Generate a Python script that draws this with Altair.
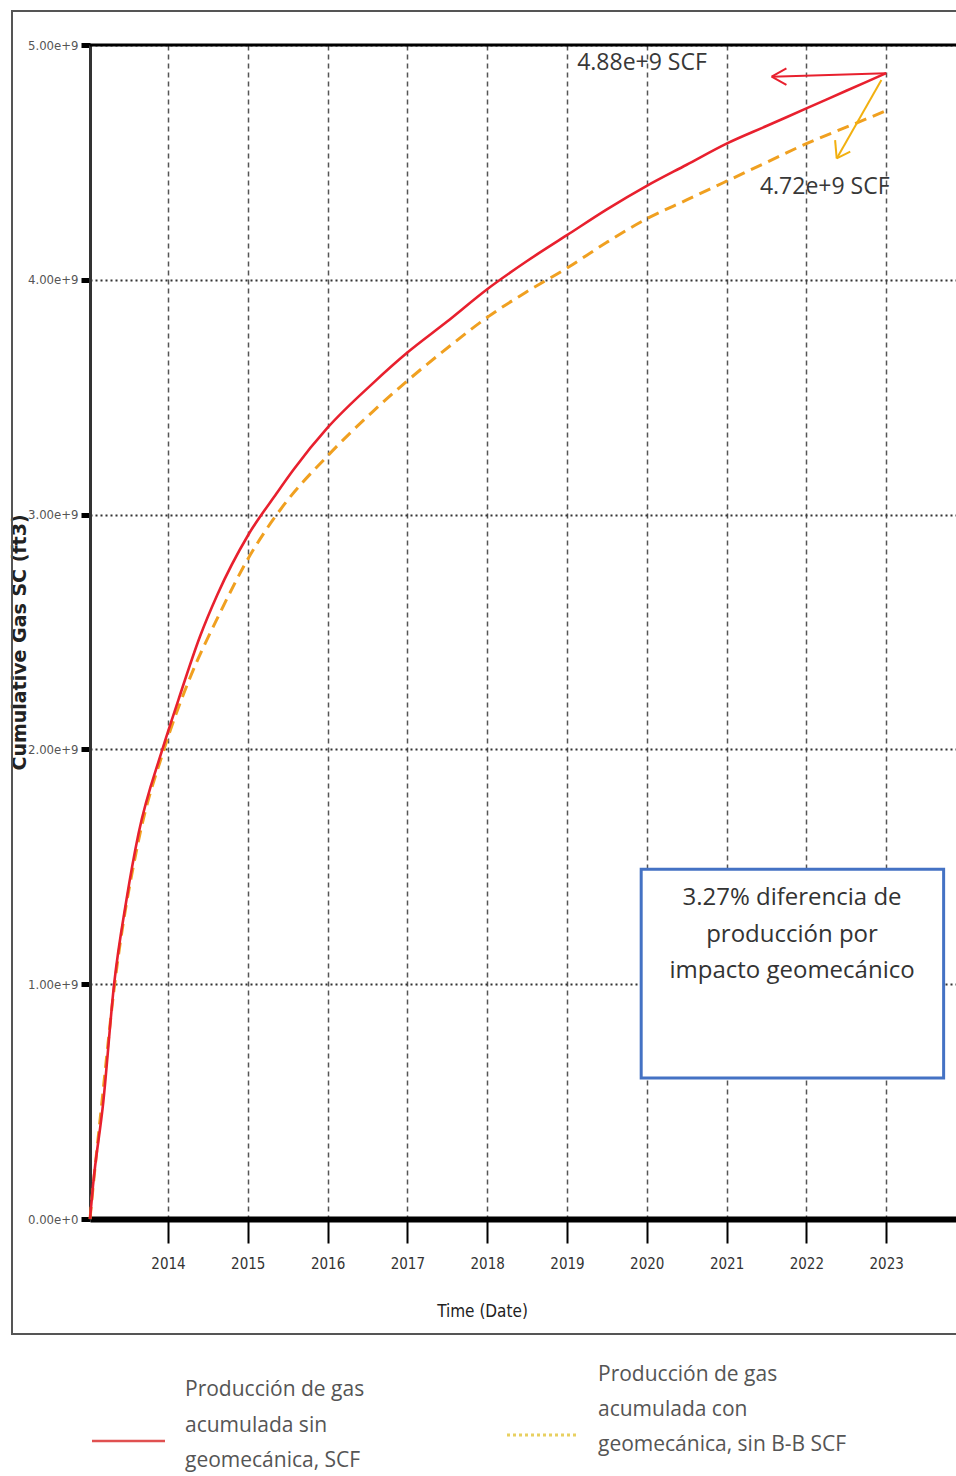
import altair as alt
import pandas as pd

# ---- data ----
red_years = [2013.023, 2013.06, 2013.19, 2013.325, 2013.48, 2013.63, 2013.93, 2014.13,
             2014.40, 2014.62, 2015.0, 2015.36, 2015.57, 2016.0, 2016.57, 2017.0,
             2017.49, 2018.0, 2018.5, 2019.0, 2019.5, 2020.0, 2020.5, 2021.0,
             2021.5, 2022.0, 2022.5, 2023.0]
red_vals = [0.0, 0.14, 0.50, 1.00, 1.36, 1.64, 2.00, 2.21,
            2.48, 2.66, 2.91, 3.09, 3.19, 3.37, 3.56, 3.69,
            3.82, 3.96, 4.08, 4.19, 4.30, 4.40, 4.49, 4.58,
            4.655, 4.73, 4.805, 4.88]

org_years = [2013.023, 2013.06, 2013.17, 2013.325, 2013.63, 2013.95, 2014.27, 2014.65,
             2015.0, 2015.45, 2016.0, 2016.57, 2017.0, 2017.54, 2018.0, 2018.5,
             2019.0, 2019.5, 2020.0, 2020.5, 2021.0, 2021.5, 2022.0, 2022.5, 2023.0]
org_vals = [0.0, 0.13, 0.49, 0.98, 1.61, 2.00, 2.30, 2.58,
            2.81, 3.04, 3.25, 3.44, 3.57, 3.72, 3.84, 3.95,
            4.05, 4.16, 4.26, 4.34, 4.42, 4.50, 4.58, 4.65, 4.72]

year_ticks = [2014, 2015, 2016, 2017, 2018, 2019, 2020, 2021, 2022, 2023]
gas_ticks = [0, 1e9, 2e9, 3e9, 4e9, 5e9]

ann_texts = ["4.88e+9 SCF", "4.72e+9 SCF"]
ann_years = [2019.94, 2022.23]
ann_vals = [4.923, 4.395]

box_lines = ["3.27% diferencia de", "producción por", "impacto geomecánico"]
box_line_vals = [1.367, 1.210, 1.056]
box_center_year = 2021.82
box_x = [2019.93, 2023.72]
box_y = [1.49, 0.60]

legend_left = ["Producción de gas", "acumulada sin", "geomecánica, SCF"]
legend_right = ["Producción de gas", "acumulada con", "geomecánica, sin B-B SCF"]

# arrows: (start year, start val, end year, end val) in data units
red_arrow = [(2023.0, 4.88, 2021.565, 4.865), (2021.565, 4.865, 2021.75, 4.90),
             (2021.565, 4.865, 2021.75, 4.83)]
org_arrow = [(2022.94, 4.851, 2022.38, 4.517), (2022.38, 4.517, 2022.36, 4.595),
             (2022.38, 4.517, 2022.55, 4.546)]

RED = "#E8202E"
ORANGE = "#F0A020"
NARROW = "DejaVu Sans Condensed, Liberation Sans Narrow, Arial Narrow, sans-serif"
TXT = "Open Sans"

W, H = 866, 1174

df_red = pd.DataFrame({"year": red_years, "gas": [v * 1e9 for v in red_vals]})
df_org = pd.DataFrame({"year": org_years, "gas": [v * 1e9 for v in org_vals]})

xs = alt.Scale(domain=[2013.023, 2023.875], nice=False, zero=False)
ys = alt.Scale(domain=[0, 5e9], nice=False)

x_axis = alt.Axis(values=year_ticks, format="d", title="Time (Date)",
                  grid=True, gridColor="#555", gridDash=[5, 4], gridWidth=1.5,
                  domainColor="black", domainWidth=6,
                  tickColor="black", tickWidth=2, tickSize=24,
                  labelFont=NARROW, labelFontSize=15, labelColor="#333",
                  labelPadding=13, labelFlush=False,
                  titleFont=NARROW, titleFontSize=17, titleColor="#222",
                  titleFontWeight="normal", titleX=392, titleY=92,
                  titleBaseline="middle", titleAlign="center")
y_axis = alt.Axis(values=gas_ticks, format=".2e", title="Cumulative Gas SC (ft3)",
                  grid=True, gridColor="#333", gridDash=[2, 3], gridWidth=2,
                  domainColor="#333", domainWidth=3,
                  tickColor="black", tickWidth=5, tickSize=9,
                  labelFont=NARROW, labelFontSize=13, labelColor="#555",
                  labelPadding=3, labelFlush=False,
                  titleFont="DejaVu Sans", titleFontSize=19, titleFontWeight="bold",
                  titleColor="#222", titleX=-71, titleY=597, titleAngle=270,
                  titleAlign="center", titleBaseline="middle")

orange_line = alt.Chart(df_org).mark_line(
    color=ORANGE, strokeWidth=3, strokeDash=[12, 7], interpolate="monotone"
).encode(
    x=alt.X("year:Q", scale=xs, axis=x_axis),
    y=alt.Y("gas:Q", scale=ys, axis=y_axis),
)
red_line = alt.Chart(df_red).mark_line(
    color=RED, strokeWidth=2.6, interpolate="monotone"
).encode(x=alt.X("year:Q", scale=xs), y=alt.Y("gas:Q", scale=ys))

top_rule = alt.Chart(pd.DataFrame({"gas": [5e9]})).mark_rule(
    color="black", strokeWidth=3
).encode(y=alt.Y("gas:Q", scale=ys), x=alt.value(0), x2=alt.value(W))


def arrow_df(segs):
    return pd.DataFrame({
        "year": [s[0] for s in segs], "gas": [s[1] * 1e9 for s in segs],
        "year2": [s[2] for s in segs], "gas2": [s[3] * 1e9 for s in segs],
    })


red_arr = alt.Chart(arrow_df(red_arrow)).mark_rule(color=RED, strokeWidth=2).encode(
    x=alt.X("year:Q", scale=xs), y=alt.Y("gas:Q", scale=ys), x2="year2", y2="gas2"
)
org_arr = alt.Chart(arrow_df(org_arrow)).mark_rule(color="#F2B010", strokeWidth=2).encode(
    x=alt.X("year:Q", scale=xs), y=alt.Y("gas:Q", scale=ys), x2="year2", y2="gas2"
)

ann = alt.Chart(pd.DataFrame({"year": ann_years, "gas": [v * 1e9 for v in ann_vals],
                              "t": ann_texts})).mark_text(
    font=TXT, fontSize=23, color="#383838", align="center", baseline="middle"
).encode(x=alt.X("year:Q", scale=xs), y=alt.Y("gas:Q", scale=ys), text="t:N")

box = alt.Chart(pd.DataFrame({"year": [box_x[0]], "year2": [box_x[1]],
                              "gas": [box_y[0] * 1e9], "gas2": [box_y[1] * 1e9]})).mark_rect(
    fill="white", stroke="#4472C4", strokeWidth=3
).encode(x=alt.X("year:Q", scale=xs), x2="year2", y=alt.Y("gas:Q", scale=ys), y2="gas2")

box_text = alt.Chart(pd.DataFrame({"year": [box_center_year] * 3,
                                   "gas": [v * 1e9 for v in box_line_vals],
                                   "t": box_lines})).mark_text(
    font=TXT, fontSize=24, color="#333", align="center", baseline="middle"
).encode(x=alt.X("year:Q", scale=xs), y=alt.Y("gas:Q", scale=ys), text="t:N")

one = pd.DataFrame({"a": [0]})

frame = alt.Chart(one).mark_rect(fill="transparent", stroke="#555", strokeWidth=2).encode(
    x=alt.value(-78), x2=alt.value(W + 40), y=alt.value(-34), y2=alt.value(1289)
)

leg_red = alt.Chart(one).mark_rule(color="#E05050", strokeWidth=2.5).encode(
    x=alt.value(2), x2=alt.value(75), y=alt.value(1396)
)
leg_org = alt.Chart(one).mark_rule(color="#E8D060", strokeWidth=3, strokeDash=[3, 3]).encode(
    x=alt.value(417), x2=alt.value(488), y=alt.value(1390)
)

leg_layers = []
for i, t in enumerate(legend_left):
    leg_layers.append(alt.Chart(one).mark_text(
        font=TXT, fontSize=21, color="#555", align="left", baseline="middle"
    ).encode(x=alt.value(95), y=alt.value(1345 + 35.5 * i), text=alt.value(t)))
for i, t in enumerate(legend_right):
    leg_layers.append(alt.Chart(one).mark_text(
        font=TXT, fontSize=21, color="#555", align="left", baseline="middle"
    ).encode(x=alt.value(508), y=alt.value(1330 + 35 * i), text=alt.value(t)))

chart = alt.layer(
    orange_line, red_line, top_rule, box, box_text, red_arr, org_arr, ann,
    frame, leg_red, leg_org, *leg_layers
).properties(
    width=W, height=H,
    autosize=alt.AutoSizeParams(type="none"),
    padding={"left": 90, "top": 45, "right": 0, "bottom": 257},
    background="white",
).configure_view(stroke=None)

chart.save("out.html", embed_options={"renderer": "svg", "actions": False})
